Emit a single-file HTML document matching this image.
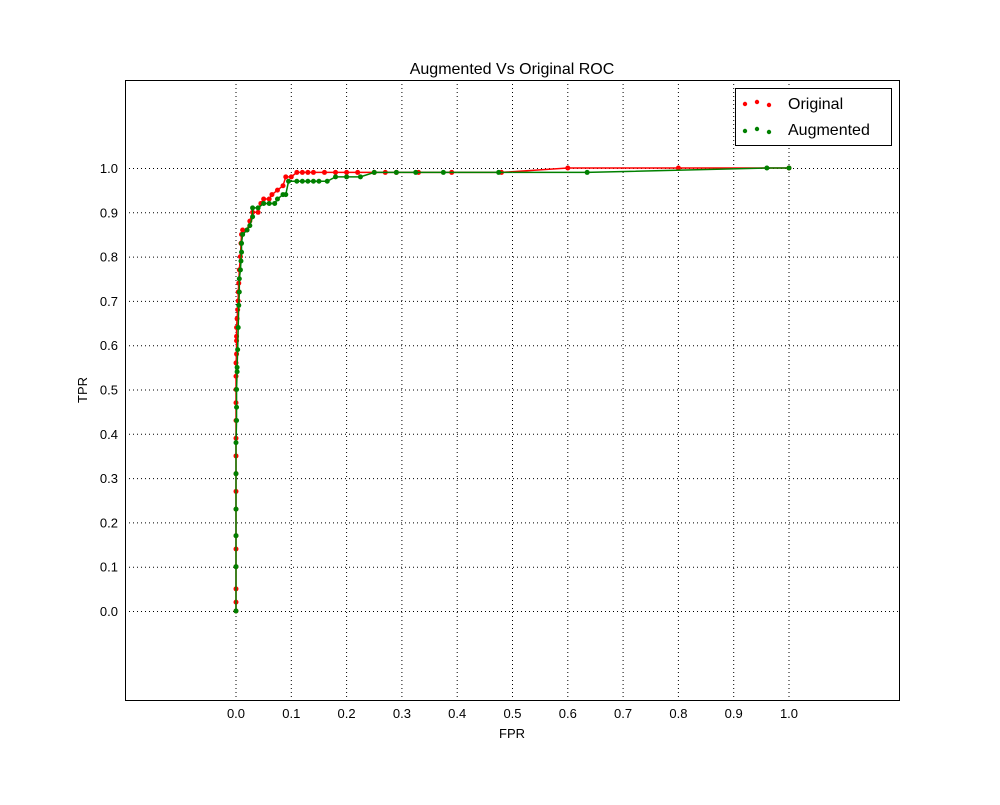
<!DOCTYPE html>
<html><head><meta charset="utf-8"><style>
body{margin:0;background:#fff;font-family:"Liberation Sans",sans-serif;}
svg text{font-family:"Liberation Sans",sans-serif;}
</style></head><body>
<svg id="chart" width="1000" height="800" xmlns="http://www.w3.org/2000/svg">
<rect width="1000" height="800" fill="#fff"/>
<text x="512" y="74" font-size="16" text-anchor="middle">Augmented Vs Original ROC</text>
<g id="grid"></g>
<g id="ticks"></g>
<g id="series"></g>
<rect x="125.5" y="80.5" width="774" height="620" fill="none" stroke="#000" stroke-width="1"/>
<text x="512" y="738" font-size="13" text-anchor="middle">FPR</text>
<text transform="translate(87,390) rotate(-90)" font-size="13" text-anchor="middle">TPR</text>
<g>
<rect x="735.5" y="88.5" width="156" height="57" fill="#fff" stroke="#000"/>
<g>
<circle cx="745" cy="104" r="2.2" fill="red"/><circle cx="757" cy="102" r="2.2" fill="red"/><circle cx="769" cy="105" r="2.2" fill="red"/>
<text x="788" y="109" font-size="16">Original</text></g>
<g>
<circle cx="745" cy="131" r="2.2" fill="green"/><circle cx="757" cy="129" r="2.2" fill="green"/><circle cx="769" cy="132" r="2.2" fill="green"/>
<text x="788" y="135" font-size="16">Augmented</text></g>
</g>
</svg>
<script>
const tickValues=[0,0.1,0.2,0.3,0.4,0.5,0.6,0.7,0.8,0.9,1.0];
const tickLabels=["0.0","0.1","0.2","0.3","0.4","0.5","0.6","0.7","0.8","0.9","1.0"];
const origFpr=[0,0,0,0,0,0,0,0,0,0,0,0,0,0,0,0,0.001,0.001,0.001,0.001,0.002,0.003,0.004,0.004,0.005,0.006,0.008,0.009,0.01,0.012,0.02,0.025,0.03,0.04,0.045,0.05,0.06,0.065,0.075,0.085,0.09,0.1,0.11,0.12,0.13,0.14,0.16,0.18,0.2,0.22,0.25,0.27,0.29,0.33,0.39,0.48,0.6,0.8,1];
const origTpr=[0,0.02,0.05,0.1,0.14,0.17,0.23,0.27,0.31,0.35,0.39,0.43,0.47,0.5,0.53,0.56,0.58,0.61,0.62,0.64,0.66,0.68,0.7,0.72,0.74,0.77,0.8,0.83,0.85,0.86,0.86,0.88,0.9,0.9,0.92,0.93,0.93,0.94,0.95,0.96,0.98,0.98,0.99,0.99,0.99,0.99,0.99,0.99,0.99,0.99,0.99,0.99,0.99,0.99,0.99,0.99,1.0,1.0,1.0];
const augFpr=[0,0,0,0,0,0,0.001,0.001,0.001,0.002,0.002,0.003,0.004,0.005,0.006,0.006,0.008,0.009,0.01,0.01,0.012,0.02,0.025,0.03,0.03,0.04,0.05,0.06,0.07,0.075,0.085,0.09,0.095,0.11,0.12,0.13,0.14,0.15,0.165,0.18,0.2,0.225,0.25,0.29,0.325,0.375,0.475,0.635,0.96,1];
const augTpr=[0,0.1,0.17,0.23,0.31,0.38,0.43,0.46,0.5,0.54,0.55,0.59,0.64,0.69,0.72,0.75,0.77,0.79,0.81,0.83,0.85,0.86,0.87,0.89,0.91,0.91,0.92,0.92,0.92,0.93,0.94,0.94,0.97,0.97,0.97,0.97,0.97,0.97,0.97,0.98,0.98,0.98,0.99,0.99,0.99,0.99,0.99,0.99,1.0,1.0];
const NS="http://www.w3.org/2000/svg";
const xs=v=>236+v*553, ys=v=>611-v*443;
function mk(t,a,p){const e=document.createElementNS(NS,t);for(const k in a)e.setAttribute(k,a[k]);p.appendChild(e);return e;}
const grid=document.getElementById('grid'),ticks=document.getElementById('ticks'),ser=document.getElementById('series');
tickValues.forEach((v,i)=>{
  const gx=mk('line',{x1:xs(v),x2:xs(v),y1:80,y2:700,stroke:'#000','stroke-dasharray':'1,3','stroke-width':1},grid);
  
  
  const gy=mk('line',{x1:125,x2:900,y1:ys(v)+0.5,y2:ys(v)+0.5,stroke:'#000','stroke-dasharray':'1,3','stroke-width':1},grid);
  
  
  const tx=mk('text',{x:xs(v),y:718,'font-size':13,'text-anchor':'middle'},ticks);tx.textContent=tickLabels[i];
  
  
  const ty=mk('text',{x:118,y:ys(v)+5,'font-size':13,'text-anchor':'end'},ticks);ty.textContent=tickLabels[i];
  
  
});
function draw(fx,fy,c,name){
  const g=mk('g',{},ser);
  
  
  const pl=mk('polyline',{points:fx.map((x,i)=>xs(x)+','+ys(fy[i])).join(' '),fill:'none',stroke:c,'stroke-width':1.5},g);
  
  
  fx.forEach((x,i)=>{const p=mk('circle',{cx:xs(x),cy:ys(fy[i]),r:2.5,fill:c},g);
    
    });
}
draw(origFpr,origTpr,'red','original-series');
draw(augFpr,augTpr,'green','augmented-series');
</script>
</body></html>
